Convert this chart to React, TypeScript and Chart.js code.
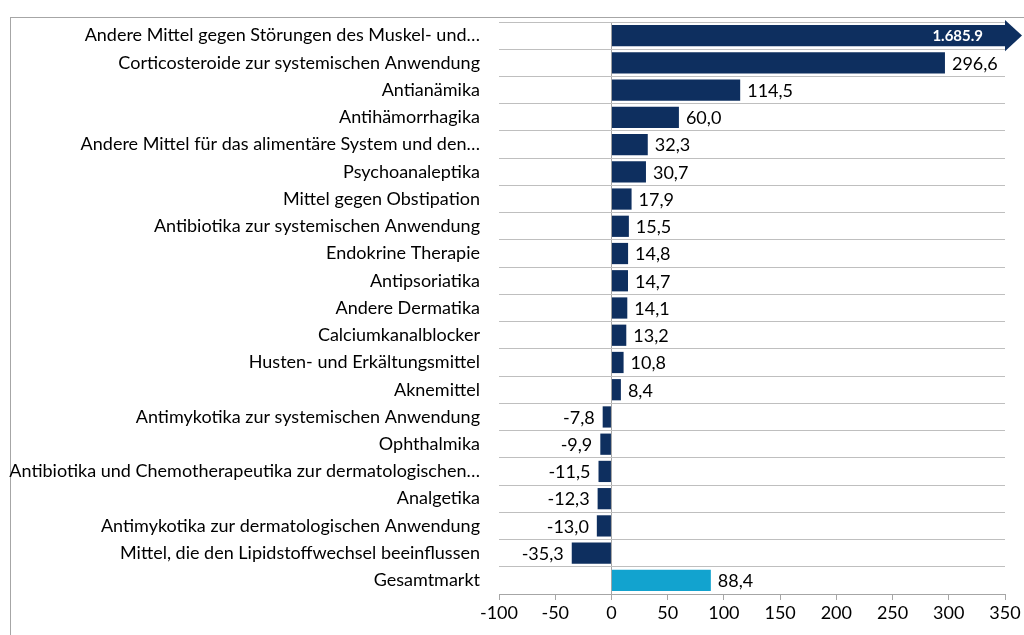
import { useEffect, useRef } from 'react';
import { Chart, registerables } from 'chart.js';

Chart.register(...registerables);

const categories = [
  'Andere Mittel gegen Störungen des Muskel- und…',
  'Corticosteroide zur systemischen Anwendung',
  'Antianämika',
  'Antihämorrhagika',
  'Andere Mittel für das alimentäre System und den…',
  'Psychoanaleptika',
  'Mittel gegen Obstipation',
  'Antibiotika zur systemischen Anwendung',
  'Endokrine Therapie',
  'Antipsoriatika',
  'Andere Dermatika',
  'Calciumkanalblocker',
  'Husten- und Erkältungsmittel',
  'Aknemittel',
  'Antimykotika zur systemischen Anwendung',
  'Ophthalmika',
  'Antibiotika und Chemotherapeutika zur dermatologischen…',
  'Analgetika',
  'Antimykotika zur dermatologischen Anwendung',
  'Mittel, die den Lipidstoffwechsel beeinflussen',
  'Gesamtmarkt',
];

const values = [
  1685.9, 296.6, 114.5, 60.0, 32.3, 30.7, 17.9, 15.5, 14.8, 14.7, 14.1, 13.2,
  10.8, 8.4, -7.8, -9.9, -11.5, -12.3, -13.0, -35.3, 88.4,
];

const valueLabels = [
  '1.685.9', '296,6', '114,5', '60,0', '32,3', '30,7', '17,9', '15,5', '14,8',
  '14,7', '14,1', '13,2', '10,8', '8,4', '-7,8', '-9,9', '-11,5', '-12,3',
  '-13,0', '-35,3', '88,4',
];

const xMin = -100;
const xMax = 350;
const xStep = 50;

const NAVY = '#0e2f5f';
const TOTAL = '#12a3cf';
const FONT = 'Lato, "Liberation Sans", sans-serif';

const labelPlugin = {
  id: 'valueLabels',
  afterDatasetsDraw(chart: any) {
    const ctx = chart.ctx;
    const area = chart.chartArea;
    const max = chart.scales.x.max;
    const meta = chart.getDatasetMeta(0);
    meta.data.forEach((bar: any, i: number) => {
      const v = values[i];
      const { x, y, height } = bar.getProps(['x', 'y', 'height'], true);
      ctx.save();
      if (v > max) {
        const r = area.right;
        const hh = height * 0.74;
        ctx.fillStyle = NAVY;
        ctx.beginPath();
        ctx.moveTo(r, y - hh);
        ctx.lineTo(r + 17, y);
        ctx.lineTo(r, y + hh);
        ctx.closePath();
        ctx.fill();
        ctx.fillStyle = '#ffffff';
        ctx.font = `bold 15px ${FONT}`;
        ctx.textAlign = 'right';
        ctx.textBaseline = 'middle';
        ctx.fillText(valueLabels[i], r - 22, y + 1);
      } else {
        ctx.fillStyle = '#000000';
        ctx.font = `18px ${FONT}`;
        ctx.textBaseline = 'middle';
        if (v >= 0) {
          ctx.textAlign = 'left';
          ctx.fillText(valueLabels[i], x + 7, y + 1);
        } else {
          ctx.textAlign = 'right';
          ctx.fillText(valueLabels[i], x - 8, y + 1);
        }
      }
      ctx.restore();
    });
  },
};

export default function App() {
  const ref = useRef<HTMLCanvasElement>(null);

  useEffect(() => {
    if (!ref.current) return;
    const chart = new Chart(ref.current, {
      type: 'bar',
      data: {
        labels: categories,
        datasets: [
          {
            data: values,
            backgroundColor: categories.map((_, i) =>
              i === categories.length - 1 ? TOTAL : NAVY
            ),
            barPercentage: 0.78,
            categoryPercentage: 1,
          },
        ],
      },
      options: {
        indexAxis: 'y',
        responsive: false,
        animation: false,
        devicePixelRatio: 1,
        layout: { padding: { top: 22, right: 19, left: 0, bottom: 0 } },
        plugins: {
          legend: { display: false },
          tooltip: { enabled: false },
        },
        scales: {
          x: {
            min: xMin,
            max: xMax,
            afterFit: (s: any) => {
              s.height = 41;
            },
            ticks: {
              stepSize: xStep,
              color: '#000000',
              font: { family: FONT, size: 18 },
              padding: 2,
            },
            grid: {
              color: (c: any) =>
                c.tick && c.tick.value === 0 ? '#a6a6a6' : 'rgba(0,0,0,0)',
              tickColor: '#a6a6a6',
              tickLength: 6,
            },
            border: { display: true, color: '#a6a6a6' },
          },
          y: {
            afterFit: (s: any) => {
              s.width = 499;
              s.paddingTop = 0;
              s.paddingBottom = 0;
            },
            ticks: {
              color: '#000000',
              font: { family: FONT, size: 18 },
              padding: 19,
              autoSkip: false,
            },
            grid: {
              color: '#bfbfbf',
              drawTicks: false,
              offset: true,
            },
            border: { display: false },
          },
        },
      },
      plugins: [labelPlugin],
    });
    return () => chart.destroy();
  }, []);

  return (
    <div style={{ position: 'absolute', left: 0, top: 0, width: 1024, height: 635, background: '#ffffff', overflow: 'hidden' }}>
      <div
        style={{
          position: 'absolute',
          left: 10,
          top: 17,
          width: 1014,
          height: 618,
          boxSizing: 'border-box',
          borderLeft: '1px solid #a6a6a6',
          borderTop: '1px solid #a6a6a6',
        }}
      />
      <canvas
        ref={ref}
        width={1024}
        height={635}
        style={{ position: 'absolute', left: 0, top: 0, width: 1024, height: 635 }}
      />
    </div>
  );
}
